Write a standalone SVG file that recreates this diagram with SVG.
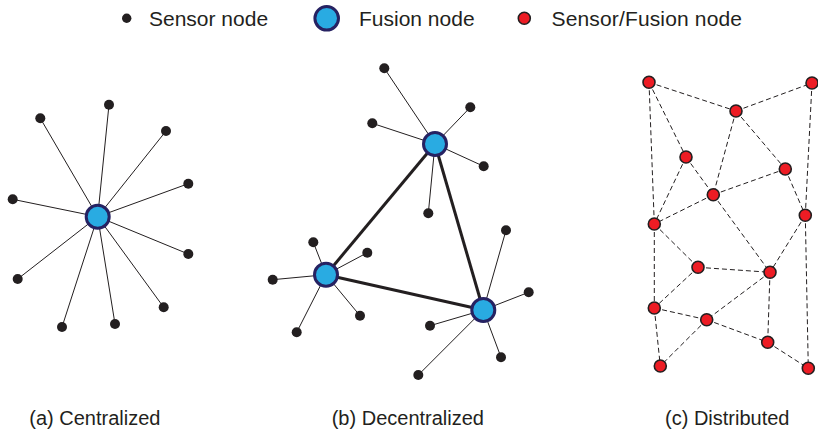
<svg xmlns="http://www.w3.org/2000/svg" width="818" height="431" viewBox="0 0 818 431">
<style>
.s{fill:#231f20}
.h{fill:#29abe2;stroke:#262262;stroke-width:3}
.r{fill:#ed1c24;stroke:#231f20;stroke-width:1.6}
.thin{stroke:#231f20;stroke-width:1;fill:none}
.thick{stroke:#231f20;stroke-width:3;fill:none}
.dash{stroke:#231f20;stroke-width:1;stroke-dasharray:5 3;fill:none}
text{font-family:"Liberation Sans",Arial,sans-serif;fill:#231f20}
.lg{font-size:21px}
.cap{font-size:20px}
</style>
<rect width="818" height="431" fill="#fff"/>
<g id="legend">
<circle class="s" cx="126.7" cy="18.3" r="4.7"/>
<text class="lg" x="149" y="26">Sensor node</text>
<circle class="h" cx="326.7" cy="18.3" r="11.8"/>
<text class="lg" x="359" y="26">Fusion node</text>
<circle class="r" cx="524.3" cy="18.3" r="6"/>
<text class="lg" x="551.5" y="26" textLength="190.5">Sensor/Fusion node</text>
</g>
<g id="connectors">
<g id="edges-a" class="thin">
<line x1="97.7" y1="216.7" x2="109" y2="104.7"/>
<line x1="97.7" y1="216.7" x2="40.3" y2="118.3"/>
<line x1="97.7" y1="216.7" x2="166" y2="131"/>
<line x1="97.7" y1="216.7" x2="188.3" y2="183.7"/>
<line x1="97.7" y1="216.7" x2="12.7" y2="199.3"/>
<line x1="97.7" y1="216.7" x2="188.3" y2="254"/>
<line x1="97.7" y1="216.7" x2="17.7" y2="279"/>
<line x1="97.7" y1="216.7" x2="163.7" y2="307.3"/>
<line x1="97.7" y1="216.7" x2="62" y2="327"/>
<line x1="97.7" y1="216.7" x2="115" y2="324"/>
</g>
<g id="edges-b" class="thin">
<line x1="435" y1="144" x2="384.3" y2="68.3"/>
<line x1="435" y1="144" x2="470.3" y2="107.3"/>
<line x1="435" y1="144" x2="372.3" y2="123.3"/>
<line x1="435" y1="144" x2="483.7" y2="166.3"/>
<line x1="435" y1="144" x2="428.3" y2="213.3"/>
<line x1="326" y1="274.7" x2="313.3" y2="242.3"/>
<line x1="326" y1="274.7" x2="367.3" y2="252.7"/>
<line x1="326" y1="274.7" x2="272.7" y2="279.7"/>
<line x1="326" y1="274.7" x2="360" y2="315.7"/>
<line x1="326" y1="274.7" x2="296.7" y2="332.3"/>
<line x1="483.3" y1="310" x2="506" y2="230.3"/>
<line x1="483.3" y1="310" x2="528.7" y2="292.3"/>
<line x1="483.3" y1="310" x2="430" y2="325.7"/>
<line x1="483.3" y1="310" x2="501" y2="357.3"/>
<line x1="483.3" y1="310" x2="418.3" y2="375"/>
</g>
<g id="edges-b-fusion" class="thick">
<line x1="435" y1="144" x2="326" y2="274.7"/>
<line x1="435" y1="144" x2="483.3" y2="310"/>
<line x1="326" y1="274.7" x2="483.3" y2="310"/>
</g>
<g id="edges-c" class="dash">
<line x1="649" y1="82.3" x2="736" y2="111"/>
<line x1="736" y1="111" x2="812" y2="83"/>
<line x1="649" y1="82.3" x2="654.3" y2="224"/>
<line x1="649" y1="82.3" x2="686" y2="157"/>
<line x1="812" y1="83" x2="805.3" y2="215.3"/>
<line x1="736" y1="111" x2="713.3" y2="194.7"/>
<line x1="736" y1="111" x2="785.3" y2="169"/>
<line x1="686" y1="157" x2="713.3" y2="194.7"/>
<line x1="686" y1="157" x2="654.3" y2="224"/>
<line x1="713.3" y1="194.7" x2="785.3" y2="169"/>
<line x1="713.3" y1="194.7" x2="654.3" y2="224"/>
<line x1="713.3" y1="194.7" x2="770" y2="272.3"/>
<line x1="785.3" y1="169" x2="805.3" y2="215.3"/>
<line x1="805.3" y1="215.3" x2="770" y2="272.3"/>
<line x1="805.3" y1="215.3" x2="808.3" y2="368.3"/>
<line x1="654.3" y1="224" x2="698" y2="267.3"/>
<line x1="654.3" y1="224" x2="654.3" y2="308"/>
<line x1="698" y1="267.3" x2="770" y2="272.3"/>
<line x1="698" y1="267.3" x2="654.3" y2="308"/>
<line x1="770" y1="272.3" x2="706.7" y2="319.7"/>
<line x1="770" y1="272.3" x2="767.7" y2="342.3"/>
<line x1="654.3" y1="308" x2="706.7" y2="319.7"/>
<line x1="654.3" y1="308" x2="660.3" y2="366"/>
<line x1="706.7" y1="319.7" x2="660.3" y2="366"/>
<line x1="706.7" y1="319.7" x2="767.7" y2="342.3"/>
<line x1="767.7" y1="342.3" x2="808.3" y2="368.3"/>
</g>
</g>
<g id="node-a-hub"><circle class="h" cx="97.7" cy="216.7" r="11.5"/></g>
<g id="nodes-a-sensors">
<circle class="s" cx="109" cy="104.7" r="5"/>
<circle class="s" cx="40.3" cy="118.3" r="5"/>
<circle class="s" cx="166" cy="131" r="5"/>
<circle class="s" cx="188.3" cy="183.7" r="5"/>
<circle class="s" cx="12.7" cy="199.3" r="5"/>
<circle class="s" cx="188.3" cy="254" r="5"/>
<circle class="s" cx="17.7" cy="279" r="5"/>
<circle class="s" cx="163.7" cy="307.3" r="5"/>
<circle class="s" cx="62" cy="327" r="5"/>
<circle class="s" cx="115" cy="324" r="5"/>
</g>
<g id="node-b-hub1"><circle class="h" cx="435" cy="144" r="11.5"/></g>
<g id="node-b-hub2"><circle class="h" cx="326" cy="274.7" r="11.5"/></g>
<g id="node-b-hub3"><circle class="h" cx="483.3" cy="310" r="11.5"/></g>
<g id="nodes-b-sensors">
<circle class="s" cx="384.3" cy="68.3" r="5"/>
<circle class="s" cx="470.3" cy="107.3" r="5"/>
<circle class="s" cx="372.3" cy="123.3" r="5"/>
<circle class="s" cx="483.7" cy="166.3" r="5"/>
<circle class="s" cx="428.3" cy="213.3" r="5"/>
<circle class="s" cx="313.3" cy="242.3" r="5"/>
<circle class="s" cx="367.3" cy="252.7" r="5"/>
<circle class="s" cx="272.7" cy="279.7" r="5"/>
<circle class="s" cx="360" cy="315.7" r="5"/>
<circle class="s" cx="296.7" cy="332.3" r="5"/>
<circle class="s" cx="506" cy="230.3" r="5"/>
<circle class="s" cx="528.7" cy="292.3" r="5"/>
<circle class="s" cx="430" cy="325.7" r="5"/>
<circle class="s" cx="501" cy="357.3" r="5"/>
<circle class="s" cx="418.3" cy="375" r="5"/>
</g>
<g id="nodes-c">
<circle class="r" cx="649" cy="82.3" r="6"/>
<circle class="r" cx="812" cy="83" r="6"/>
<circle class="r" cx="736" cy="111" r="6"/>
<circle class="r" cx="686" cy="157" r="6"/>
<circle class="r" cx="785.3" cy="169" r="6"/>
<circle class="r" cx="713.3" cy="194.7" r="6"/>
<circle class="r" cx="654.3" cy="224" r="6"/>
<circle class="r" cx="805.3" cy="215.3" r="6"/>
<circle class="r" cx="698" cy="267.3" r="6"/>
<circle class="r" cx="770" cy="272.3" r="6"/>
<circle class="r" cx="654.3" cy="308" r="6"/>
<circle class="r" cx="706.7" cy="319.7" r="6"/>
<circle class="r" cx="767.7" cy="342.3" r="6"/>
<circle class="r" cx="660.3" cy="366" r="6"/>
<circle class="r" cx="808.3" cy="368.3" r="6"/>
</g>
<g id="captions">
<text class="cap" x="29.3" y="425">(a) Centralized</text>
<text class="cap" x="331.7" y="425">(b) Decentralized</text>
<text class="cap" x="665" y="425">(c) Distributed</text>
</g>
</svg>
